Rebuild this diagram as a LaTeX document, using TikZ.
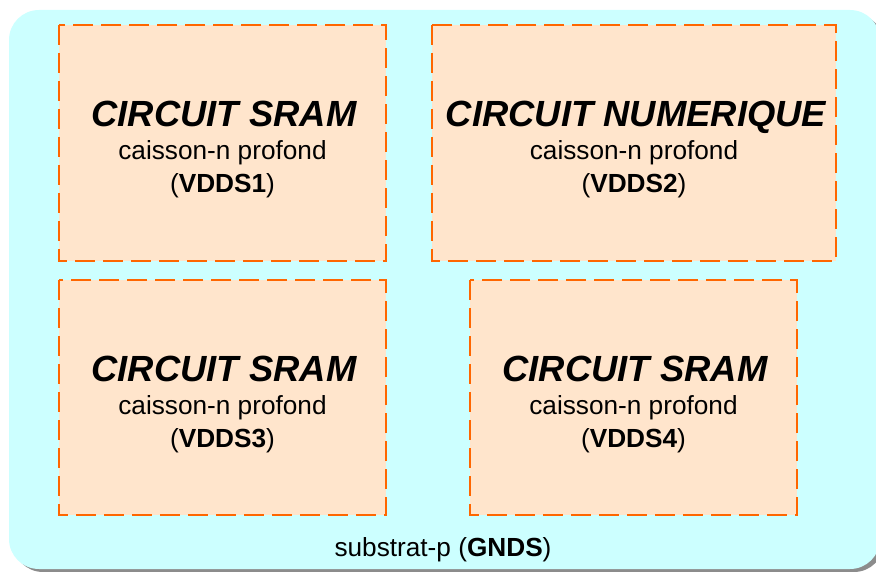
\documentclass[tikz,border=0pt]{standalone}
\usepackage{fontspec}
\setmainfont{Liberation Sans}
\usetikzlibrary{calc}
\definecolor{bgcyan}{HTML}{CCFFFF}
\definecolor{boxfill}{HTML}{FFE5CC}
\definecolor{boxline}{HTML}{FF6600}
\begin{document}
\begin{tikzpicture}[x=1pt,y=-1pt,
  circbox/.style={draw=boxline, fill=boxfill, line width=2.6pt, dash pattern=on 20pt off 8pt},
  titletext/.style={font=\fontsize{36.4}{40}\selectfont\bfseries\itshape, anchor=base, inner sep=0pt},
  subtext/.style={font=\fontsize{26.2}{30}\selectfont, anchor=base, inner sep=0pt}]
\useasboundingbox (0,0) rectangle (876,572);
% substrate with shadow
\fill[gray!90, rounded corners=30pt] (13,14) rectangle (884,572);
\fill[bgcyan, rounded corners=30pt] (9,10) rectangle (880,569);
% wells
\draw[circbox] (59,25) rectangle (386,261);
\draw[circbox] (432,25) rectangle (836,261);
\draw[circbox] (59,280) rectangle (386,515);
\draw[circbox] (470,280) rectangle (797,515);
% texts box 1
\node[titletext] (t1) at (224,127) {CIRCUIT SRAM};
\node[subtext] (s1) at (222.5,160) {caisson-n profond};
\node[subtext] (v1) at (222.5,193) {(\textbf{VDDS1})};
% box 2
\node[titletext] (t2) at (636,127) {CIRCUIT NUMERIQUE};
\node[subtext] (s2) at (634,160) {caisson-n profond};
\node[subtext] (v2) at (634,193) {(\textbf{VDDS2})};
% box 3
\node[titletext] (t3) at (224,381) {CIRCUIT SRAM};
\node[subtext] (s3) at (222.5,414) {caisson-n profond};
\node[subtext] (v3) at (222.5,447) {(\textbf{VDDS3})};
% box 4
\node[titletext] (t4) at (635,381) {CIRCUIT SRAM};
\node[subtext] (s4) at (633.5,414) {caisson-n profond};
\node[subtext] (v4) at (633.5,447) {(\textbf{VDDS4})};
% substrate label
\node[subtext] (g) at (443,556) {substrat-p (\textbf{GNDS})};
\end{tikzpicture}
\end{document}
